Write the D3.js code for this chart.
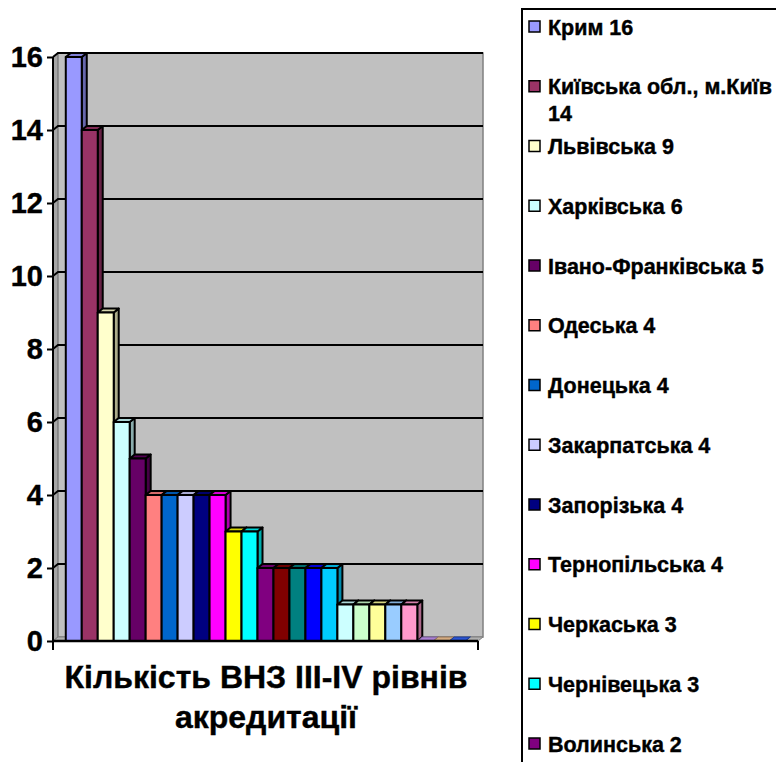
<!DOCTYPE html>
<html>
<head>
<meta charset="utf-8">
<script src="https://cdn.jsdelivr.net/npm/d3@7"></script>
<style>
  body { margin: 0; background: #fff; }
  svg { display: block; font-family: "Liberation Sans", Arial, sans-serif; font-weight: bold; }
  text { stroke: #000; stroke-width: 0.4px; }
</style>
</head>
<body>
<svg width="776" height="762"></svg>
<script>
// regions (series) and number of institutions
const regions = ["Крим", "Київська обл., м.Київ", "Львівська", "Харківська", "Івано-Франківська",
  "Одеська", "Донецька", "Закарпатська", "Запорізька", "Тернопільська", "Черкаська", "Чернівецька",
  "Волинська", "Дніпропетровська", "Луганська", "Полтавська", "Сумська", "Вінницька", "Житомирська",
  "Миколаївська", "Рівненська", "Хмельницька", "Кіровоградська", "Херсонська", "Чернігівська"]
const counts = [16, 14, 9, 6, 5, 4, 4, 4, 4, 4, 3, 3, 2, 2, 2, 2, 2, 1, 1, 1, 1, 1, 0, 0, 0]
const colors = ["#9999FF", "#993366", "#FFFFCC", "#CCFFFF", "#660066", "#FF8080", "#0066CC", "#CCCCFF",
  "#000080", "#FF00FF", "#FFFF00", "#00FFFF", "#800080", "#800000", "#008080", "#0000FF", "#00CCFF",
  "#CCFFFF", "#CCFFCC", "#FFFF99", "#99CCFF", "#FF99CC", "#CC99FF", "#FFCC99", "#3366FF"]
const yTicks = [0, 2, 4, 6, 8, 10, 12, 14, 16]
const categoryTitle = ["Кількість ВНЗ III-IV рівнів", "акредитації"]

const data = regions.map((r, i) => ({name: r, value: counts[i], color: colors[i]}))

const svg = d3.select("svg")
const pLeft = 53, pRight = 478, pTop = 57, pBottom = 641
const dx = 5, dy = -4   // depth offset of the 3d walls

const y = d3.scaleLinear().domain([0, 16]).range([pBottom, pTop])
const x = d3.scaleBand().domain(regions).range([pLeft, pRight]).paddingInner(0).paddingOuter(0.8)

// walls
const walls = svg.append("g")
walls.append("polygon") // side wall
  .attr("points", [[pLeft, pTop], [pLeft + dx, pTop + dy], [pLeft + dx, pBottom + dy], [pLeft, pBottom]].join(" "))
  .attr("fill", "#a6a6a6").attr("stroke", "#808080").attr("stroke-width", 1)
walls.append("rect") // back wall
  .attr("x", pLeft + dx).attr("y", pTop + dy)
  .attr("width", pRight - pLeft).attr("height", pBottom - pTop)
  .attr("fill", "#c0c0c0").attr("stroke", "#808080").attr("stroke-width", 1.5)
walls.append("polygon") // floor
  .attr("points", [[pLeft, pBottom], [pLeft + dx, pBottom + dy], [pRight + dx, pBottom + dy], [pRight, pBottom]].join(" "))
  .attr("fill", "#b0b0b0").attr("stroke", "#808080").attr("stroke-width", 1)

// gridlines
const grid = svg.append("g")
yTicks.filter(t => t > 0).forEach(t => {
  grid.append("polyline")
    .attr("points", [[pLeft, y(t)], [pLeft + dx, y(t) + dy], [pRight + dx, y(t) + dy]].join(" "))
    .attr("fill", "none").attr("stroke", "#000").attr("stroke-width", 2)
})

// bars, left to right so each front hides the side of its neighbour
const bars = svg.append("g")
data.forEach(d => {
  const x0 = x(d.name), w = x.bandwidth(), yv = y(d.value), y0 = y(0)
  const c = d3.color(d.color)
  const sw = d.value > 0 ? 2 : 1
  const g = bars.append("g").attr("stroke", d.value > 0 ? "#000" : c.darker(1.5)).attr("stroke-width", sw)
    .attr("stroke-linejoin", "round")
  g.append("polygon")
    .attr("points", [[x0 + w, yv], [x0 + w + dx, yv + dy], [x0 + w + dx, y0 + dy], [x0 + w, y0]].join(" "))
    .attr("fill", c.darker(1.1))
  g.append("polygon")
    .attr("points", [[x0, yv], [x0 + dx, yv + dy], [x0 + w + dx, yv + dy], [x0 + w, yv]].join(" "))
    .attr("fill", c.darker(0.5))
  if (d.value > 0) {
    g.append("rect").attr("x", x0).attr("y", yv).attr("width", w).attr("height", y0 - yv)
      .attr("fill", d.color)
  }
})

// axes
const yAxis = svg.append("g").attr("transform", "translate(" + pLeft + ",0)")
  .call(d3.axisLeft(y).tickValues(yTicks).tickSize(6).tickPadding(4).tickFormat(d3.format("d")))
yAxis.select(".domain").attr("stroke", "#000").attr("stroke-width", 2).attr("d", "M0," + pTop + "V" + pBottom)
yAxis.selectAll(".tick line").attr("stroke", "#000").attr("stroke-width", 2)
yAxis.selectAll(".tick text").attr("font-size", 29).attr("font-family", "Liberation Sans, Arial")
  .attr("font-weight", "bold").attr("fill", "#000")

const xAxis = svg.append("g").attr("transform", "translate(0," + pBottom + ")")
xAxis.append("line").attr("x1", pLeft).attr("x2", pRight).attr("stroke", "#000").attr("stroke-width", 2.5)
;[pLeft, pRight].forEach(px => xAxis.append("line").attr("x1", px).attr("x2", px).attr("y1", 0).attr("y2", 9)
  .attr("stroke", "#000").attr("stroke-width", 2))

// category title
svg.append("text").attr("x", 266).attr("y", 688).attr("text-anchor", "middle")
  .attr("font-size", 32).text(categoryTitle[0])
svg.append("text").attr("x", 266).attr("y", 728).attr("text-anchor", "middle")
  .attr("font-size", 32).text(categoryTitle[1])

// legend (entries below the bottom edge are cut, as in the original)
const legend = svg.append("g")
legend.append("rect").attr("x", 522).attr("y", 9).attr("width", 300).attr("height", 900)
  .attr("fill", "#fff").attr("stroke", "#000").attr("stroke-width", 2)
const maxW = 236
data.forEach((d, i) => {
  const cy = 27 + i * 59.75
  if (cy > 755) return
  legend.append("rect").attr("x", 529).attr("y", cy - 6).attr("width", 11).attr("height", 11)
    .attr("fill", d.color).attr("stroke", "#000").attr("stroke-width", 1.5)
  const t = legend.append("text").attr("x", 548).attr("y", cy + 7.5).attr("font-size", 21.5)
  const words = (d.name + " " + d.value).split(" ")
  let line = [], ts = t.append("tspan").attr("x", 548)
  words.forEach(wd => {
    line.push(wd)
    ts.text(line.join(" "))
    if (ts.node().getComputedTextLength() > maxW && line.length > 1) {
      line.pop(); ts.text(line.join(" "))
      line = [wd]
      ts = t.append("tspan").attr("x", 548).attr("dy", 27).text(wd)
    }
  })
})
</script>
</body>
</html>
